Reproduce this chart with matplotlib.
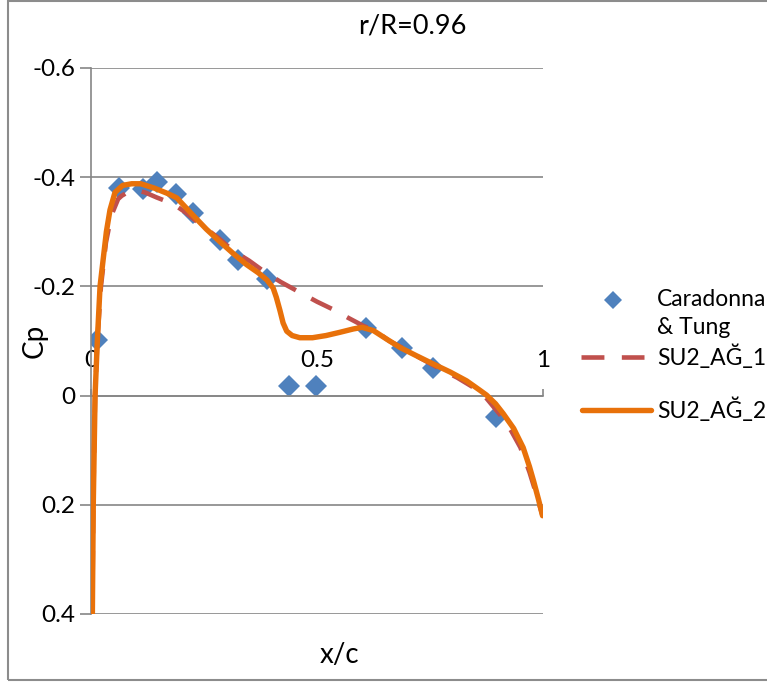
import matplotlib.pyplot as plt
import matplotlib.lines as mlines
import matplotlib.patches as mpatches

plt.rcParams['font.family'] = ['Lato', 'DejaVu Sans']

# Caradonna & Tung experiment
exp_x = [0.014, 0.063, 0.115, 0.145, 0.188, 0.225, 0.285, 0.325, 0.389,
         0.437, 0.498, 0.608, 0.687, 0.756, 0.897]
exp_cp = [-0.102, -0.380, -0.378, -0.392, -0.369, -0.334, -0.285, -0.248, -0.213,
          -0.018, -0.017, -0.124, -0.087, -0.051, 0.040]

# SU2_AĞ_1 (dashed)
m1_x = [0.003, 0.005, 0.009, 0.014, 0.022, 0.033, 0.045, 0.060, 0.068, 0.086,
        0.100, 0.120, 0.145, 0.182, 0.210, 0.241, 0.280, 0.315, 0.350, 0.385,
        0.420, 0.462, 0.500, 0.540, 0.570, 0.602, 0.630, 0.660, 0.690, 0.730,
        0.772, 0.810, 0.846, 0.870, 0.890, 0.910, 0.930, 0.950, 0.970, 0.985, 0.999]
m1_cp = [0.40, 0.20, 0.00, -0.10, -0.20, -0.28, -0.33, -0.36, -0.366, -0.375,
         -0.376, -0.372, -0.363, -0.351, -0.335, -0.314, -0.290, -0.265, -0.247, -0.226,
         -0.208, -0.189, -0.172, -0.156, -0.142, -0.128, -0.118, -0.100, -0.087, -0.068,
         -0.049, -0.033, -0.015, 0.000, 0.020, 0.040, 0.065, 0.095, 0.140, 0.180, 0.220]

# SU2_AĞ_2 (solid)
m2_x = [0.003, 0.005, 0.009, 0.014, 0.020, 0.027, 0.034, 0.042, 0.053, 0.070,
        0.090, 0.110, 0.140, 0.170, 0.190, 0.226, 0.255, 0.285, 0.315, 0.344,
        0.370, 0.389, 0.403, 0.410, 0.418, 0.425, 0.433, 0.445, 0.462, 0.490,
        0.520, 0.551, 0.580, 0.600, 0.625, 0.655, 0.684, 0.720, 0.757, 0.795,
        0.831, 0.860, 0.875, 0.895, 0.912, 0.935, 0.956, 0.970, 0.979, 0.990, 0.999]
m2_cp = [0.40, 0.20, 0.00, -0.10, -0.20, -0.25, -0.30, -0.340, -0.372, -0.385,
         -0.388, -0.388, -0.380, -0.370, -0.362, -0.330, -0.305, -0.282, -0.260, -0.240,
         -0.225, -0.212, -0.197, -0.180, -0.156, -0.133, -0.118, -0.110, -0.106, -0.106,
         -0.110, -0.116, -0.122, -0.125, -0.119, -0.103, -0.088, -0.073, -0.058, -0.043,
         -0.027, -0.010, -0.001, 0.015, 0.033, 0.060, 0.095, 0.130, 0.156, 0.190, 0.220]

blue = '#4F81BD'
red = '#C0504D'
orange = '#E8710A'
grid = '#868686'

fig = plt.figure(figsize=(7.67, 6.86), dpi=100)
ax = fig.add_axes([91 / 767, 1 - 614 / 686, 452 / 767, 546 / 686])

ax.plot(m1_x, m1_cp, color=red, lw=3.3, dashes=(5, 3.8), zorder=3)
ax.plot(m2_x, m2_cp, color=orange, lw=3.9, solid_capstyle='round',
        solid_joinstyle='round', zorder=4)
ax.plot(exp_x, exp_cp, 'D', color=blue, markersize=11.5, markeredgewidth=0, zorder=2)

ax.set_xlim(0, 1)
ax.set_ylim(0.4, -0.6)
ax.set_yticks([-0.6, -0.4, -0.2, 0, 0.2, 0.4])
ax.set_yticklabels(['-0.6', '-0.4', '-0.2', '0', '0.2', '0.4'])
ax.set_xticks([0, 0.5, 1])
ax.set_xticklabels(['0', '0.5', '1'])
ax.grid(axis='y', color=grid, lw=1.2)
ax.set_axisbelow(True)

for s in ['right', 'bottom']:
    ax.spines[s].set_visible(False)
ax.spines['left'].set_color(grid)
ax.spines['left'].set_linewidth(1.2)
ax.spines['top'].set_position(('data', 0))
ax.spines['top'].set_color(grid)
ax.spines['top'].set_linewidth(1.2)
ax.xaxis.tick_top()
ax.tick_params(axis='x', length=5, width=1.2, color=grid, pad=13, labelsize=17.5)
ax.tick_params(axis='y', length=8, width=1.2, color=grid, pad=3, labelsize=17.5)

fig.text(35 / 767, 1 - 341 / 686, 'Cp', rotation=90, fontsize=20, ha='center', va='center')
fig.text(339 / 767, 1 - 655 / 686, 'x/c', fontsize=20, ha='center', va='center')
fig.text(412 / 767, 1 - 26 / 686, 'r/R=0.96', fontsize=19.5, ha='center', va='center')

# legend, drawn by hand to match the Excel layout
fig.add_artist(mlines.Line2D([613 / 767], [1 - 300 / 686], marker='D', color=blue,
                             markersize=9.5, markeredgewidth=0, linestyle='none'))
fig.add_artist(mlines.Line2D([581 / 767, 644 / 767], [1 - 357 / 686] * 2, color=red,
                             lw=3.3, dashes=(5, 3.8)))
fig.add_artist(mlines.Line2D([582 / 767, 651 / 767], [1 - 410 / 686] * 2, color=orange,
                             lw=3.9, solid_capstyle='round'))
fig.text(657 / 767, 1 - 300 / 686, 'Caradonna', fontsize=16.5, va='center')
fig.text(657 / 767, 1 - 327 / 686, '& Tung', fontsize=16.5, va='center')
fig.text(657 / 767, 1 - 357 / 686, 'SU2_AĞ_1', fontsize=16.5, va='center')
fig.text(657 / 767, 1 - 410 / 686, 'SU2_AĞ_2', fontsize=16.5, va='center')

# chart frame
fig.add_artist(mpatches.Rectangle((8 / 767, 1 - 680 / 686), 1, 679 / 686, fill=False,
                                  edgecolor='#8c8c8c', lw=1.5, transform=fig.transFigure))

fig.savefig('out.png', dpi=100)
